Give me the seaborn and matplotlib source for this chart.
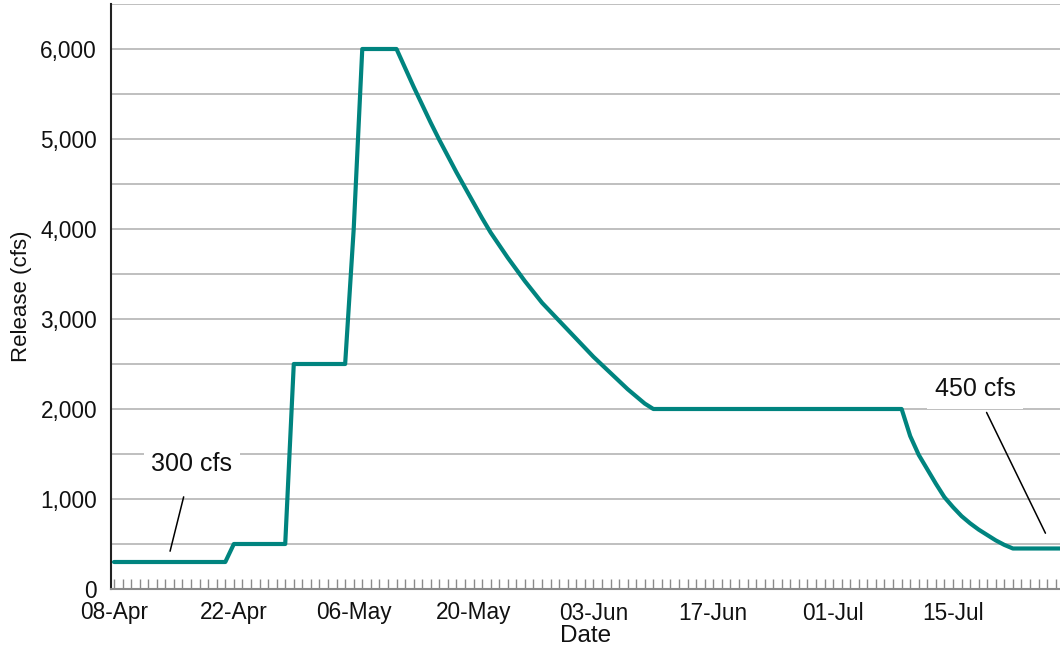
import numpy as np
import pandas as pd
import matplotlib
matplotlib.use("Agg")
import matplotlib.pyplot as plt
import matplotlib.dates as mdates
import matplotlib.ticker as mticker
import seaborn as sns

# ---- data (daily release, cfs) ----
start_date = "2019-04-08"
release_cfs = (
    [300] * 14 +
    [500] * 7 +
    [2500] * 7 +
    [4000] +
    [6000] * 5 +
    [5790, 5580, 5380, 5180, 4990, 4810, 4630, 4460, 4290, 4120,
     3960, 3820, 3680, 3550, 3420, 3300, 3180, 3080, 2980, 2880,
     2780, 2680, 2580, 2490, 2400, 2310, 2220, 2140, 2060] +
    [2000] * 30 +
    [1700, 1490, 1330, 1170, 1020, 910, 810, 730, 660, 600, 540, 490] +
    [450] * 7
)
dates = pd.date_range(start_date, periods=len(release_cfs), freq="D")
df = pd.DataFrame({"Date": dates, "Release": release_cfs})

annot_texts = ["300 cfs", "450 cfs"]

# ---- style ----
sns.set_theme(style="white")
plt.rcParams["font.family"] = ["Liberation Sans", "DejaVu Sans"]

fig = plt.figure(figsize=(10.6, 6.51), dpi=100)
ax = fig.add_axes([111 / 1060, 62 / 651, (1060 - 111) / 1060, (589 - 4) / 651])

teal = "#00847f"
sns.lineplot(data=df, x="Date", y="Release", ax=ax, color=teal, linewidth=3.0,
             zorder=3)

t0 = pd.Timestamp(start_date)
ax.set_xlim(t0 - pd.Timedelta(days=0.35), t0 + pd.Timedelta(days=110.5))
ax.set_ylim(0, 6500)

# y axis
ax.yaxis.set_major_locator(mticker.MultipleLocator(1000))
ax.yaxis.set_minor_locator(mticker.MultipleLocator(500))
ax.yaxis.set_major_formatter(mticker.FuncFormatter(lambda v, p: f"{int(v):,}"))
ax.grid(True, axis="y", which="both", color="#b4b4b4", linewidth=1.2, zorder=0)
ax.set_axisbelow(True)
ax.tick_params(axis="y", which="both", length=0, pad=10, labelsize=16.3,
               labelcolor="#111111")

# x axis
major_ticks = pd.date_range(start_date, periods=8, freq="14D")
ax.set_xticks(major_ticks)
ax.xaxis.set_major_formatter(mdates.DateFormatter("%d-%b"))
ax.xaxis.set_minor_locator(mdates.DayLocator())
ax.tick_params(axis="x", which="both", direction="in", length=7.5, width=1,
               color="#8a8a8a", bottom=True)
ax.tick_params(axis="x", which="major", pad=9, labelsize=16.3,
               labelcolor="#111111")

ax.set_xlabel("Date", fontsize=17.5, color="#111111", labelpad=0)
ax.set_ylabel("Release (cfs)", fontsize=16, color="#111111", labelpad=6)

for s in ["top", "right"]:
    ax.spines[s].set_visible(False)
ax.spines["left"].set_color("#222222")
ax.spines["left"].set_linewidth(1.5)
ax.spines["bottom"].set_color("#8a8a8a")
ax.spines["bottom"].set_linewidth(1.5)

# annotations
box = dict(boxstyle="square,pad=0.3", fc="white", ec="none")
ax.annotate(annot_texts[0],
            xy=(t0 + pd.Timedelta(days=6.55), 420),
            xytext=(t0 + pd.Timedelta(days=9.1), 1390),
            ha="center", va="center", fontsize=18, color="#111111",
            bbox=box, zorder=5,
            arrowprops=dict(arrowstyle="-", color="black", lw=1.1,
                            shrinkA=10, shrinkB=0))
ax.annotate(annot_texts[1],
            xy=(t0 + pd.Timedelta(days=108.8), 620),
            xytext=(t0 + pd.Timedelta(days=100.6), 2220),
            ha="center", va="center", fontsize=18, color="#111111",
            bbox=box, zorder=5,
            arrowprops=dict(arrowstyle="-", color="black", lw=1.1,
                            shrinkA=3, shrinkB=0))

fig.savefig("out.png", dpi=100)
